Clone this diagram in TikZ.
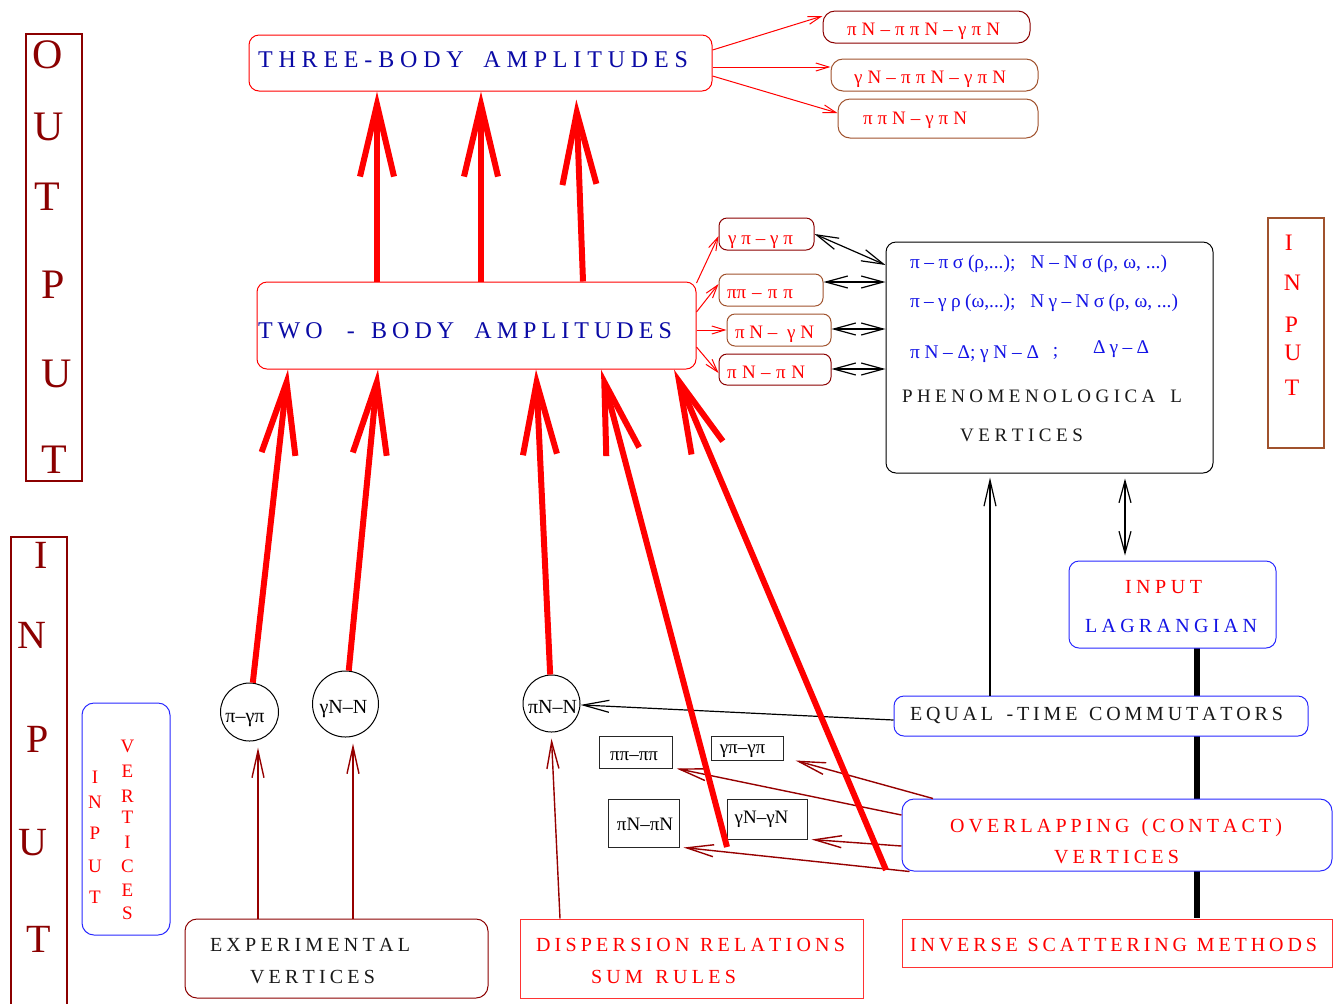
\documentclass[tikz,border=0pt]{standalone}
\usepackage{fontspec}
\setmainfont{Liberation Serif}
\usetikzlibrary{arrows.meta}
\definecolor{dred}{RGB}{139,0,0}
\definecolor{arrred}{RGB}{150,0,0}
\definecolor{brn}{RGB}{160,82,45}
\definecolor{bbox}{RGB}{40,40,255}
\definecolor{navy}{RGB}{10,10,165}
\definecolor{fblue}{RGB}{20,20,230}
\definecolor{txtblk}{RGB}{25,25,25}
\newcommand{\fsz}[1]{\fontsize{#1}{#1}\selectfont}
\newcommand{\spread}[2]{\makebox[#1][s]{\spaceskip=0.12em plus 1fil\relax #2}}
\begin{document}
\begin{tikzpicture}[x=0.5pt,y=-0.5pt,
  box/.style={draw, inner sep=0pt, line width=0.5pt, fill=white},
  rbox/.style={box, rounded corners=5pt},
  txt/.style={inner sep=0pt, anchor=base},
  bigred/.style={draw=red, line width=3pt, -{Straight Barb[length=36pt,width=17pt]}},
  thinred/.style={draw=red, line width=0.5pt, -{Straight Barb[length=6.5pt,width=4pt]}},
  drarrow/.style={draw=arrred, line width=0.7pt, -{Straight Barb[length=13.5pt,width=6pt]}},
  blkarrow/.style={draw=black, line width=0.6pt, -{Straight Barb[length=13pt,width=6pt]}},
  dblarrow/.style={draw=black, line width=0.6pt, {Straight Barb[length=11pt,width=6pt]}-{Straight Barb[length=11pt,width=6pt]}},
]
\useasboundingbox (0,0) rectangle (1343,1003);

% ---------- side boxes ----------
\node[box, draw=dred, line width=0.75pt, minimum width=28pt, minimum height=223.5pt] (outbox) at (54,257.5) {};
\foreach \l/\x/\y [count=\i] in {O/48/68, U/49/140, T/47/210, P/53/298, U/57/387, T/54/473}
  \node[txt, font=\fsz{21}, text=dred] (outL\i) at (\x,\y) {\l};

\node[box, draw=dred, line width=0.75pt, minimum width=28pt, minimum height=240pt] (inbox) at (39,777) {};
\foreach \l/\x/\y [count=\i] in {I/41/568, N/32/648, P/37.5/752, U/32.5/855, T/38.5/952}
  \node[txt, font=\fsz{20}, text=dred] (inL\i) at (\x,\y) {\l};

\node[rbox, draw=bbox, rounded corners=6pt, minimum width=44pt, minimum height=116pt] (vin) at (126,819) {};
\foreach \l/\y [count=\i] in {I/783, N/808, P/839, U/872, T/903}
  \node[txt, font=\fsz{9.5}, text=red] (viA\i) at (95,\y) {\l};
\foreach \l/\y [count=\i] in {V/752, E/777, R/802, T/823, I/848, C/872, E/896, S/919}
  \node[txt, font=\fsz{9.5}, text=red] (viB\i) at (127.5,\y) {\l};

\node[box, draw=brn, line width=0.6pt, minimum width=28pt, minimum height=115pt] (inR) at (1296,333) {};
\foreach \l/\x/\y [count=\i] in {I/1288.7/250, N/1292.5/290, P/1291.3/332, U/1292.8/360, T/1292/395}
  \node[txt, font=\fsz{11.8}, text=red] (inRL\i) at (\x,\y) {\l};

% ---------- arrows drawn under boxes ----------
\draw[line width=3.2pt] (1197,648) -- (1197,918);

% ---------- main boxes ----------
\node[rbox, draw=red, minimum width=231.5pt, minimum height=28pt] (three) at (480.5,63) {};
\node[txt, font=\fsz{12}, text=navy] (threeT) at (473,67)
  {\spread{215pt}{T H R E E - B O D Y \hspace{4pt} A M P L I T U D E S}};

\node[rbox, draw=red, minimum width=219.5pt, minimum height=43.5pt] (two) at (476.5,325.5) {};
\node[txt, font=\fsz{12}, text=navy] (twoT) at (465,338)
  {\spread{207pt}{T W O \hspace{7pt} - \hspace{3pt} B O D Y \hspace{5pt} A M P L I T U D E S}};

\node[rbox, draw=dred, rounded corners=6pt, minimum width=103.5pt, minimum height=16pt] (r1) at (926.5,27) {};
\node[txt, font=\fsz{9.5}, text=red] (r1T) at (923.5,35) {\spread{76.5pt}{π N – π π N – γ π N}};
\node[rbox, draw=brn, rounded corners=6pt, minimum width=103.5pt, minimum height=16pt] (r2) at (934.5,75) {};
\node[txt, font=\fsz{9.5}, text=red] (r2T) at (930,83) {\spread{76pt}{γ N – π π N – γ π N}};
\node[rbox, draw=brn, rounded corners=6pt, minimum width=100pt, minimum height=19.5pt] (r3) at (938,118.5) {};
\node[txt, font=\fsz{9.5}, text=red] (r3T) at (915,124) {\spread{52pt}{π π N – γ π N}};

\node[rbox, draw=dred, rounded corners=4pt, minimum width=47.5pt, minimum height=16pt] (s1) at (766.5,234) {};
\node[txt, font=\fsz{9.5}, text=red] (s1T) at (760.5,244) {\spread{32.5pt}{γ π – γ π}};
\node[rbox, draw=brn, rounded corners=4pt, minimum width=52pt, minimum height=16pt] (s2) at (771,290) {};
\node[txt, font=\fsz{9.5}, text=red] (s2T) at (760,298) {\spread{33pt}{ππ – π π}};
\node[rbox, draw=brn, rounded corners=4pt, minimum width=52pt, minimum height=16pt] (s3) at (779,330) {};
\node[txt, font=\fsz{9.5}, text=red] (s3T) at (774.5,338) {\spread{39.5pt}{π N – \ γ N}};
\node[rbox, draw=dred, rounded corners=4pt, minimum width=56pt, minimum height=15.5pt] (s4) at (775,369.5) {};
\node[txt, font=\fsz{9.5}, text=red] (s4T) at (766,378) {\spread{39pt}{π N – π N}};

\node[rbox, draw=black, minimum width=163.5pt, minimum height=115.5pt] (phen) at (1049.5,357.5) {};
\node[txt, font=\fsz{9.7}, text=fblue] (ph1) at (1038.5,268) {\spread{128.5pt}{π – π σ (ρ,...); \hspace{2pt} N – N σ (ρ, ω, ...)}};
\node[txt, font=\fsz{9.7}, text=fblue] (ph2) at (1044,307) {\spread{134pt}{π – γ ρ (ω,...); \hspace{2pt} N γ – N σ (ρ, ω, ...)}};
\node[txt, font=\fsz{9.7}, text=fblue] (ph3) at (974.5,358) {\spread{64.5pt}{π N – Δ; γ N – Δ}};
\node[txt, font=\fsz{9.7}, text=fblue] (ph3b) at (1055.5,356) {;};
\node[txt, font=\fsz{9.7}, text=fblue] (ph3c) at (1121,353) {\spread{28pt}{Δ γ – Δ}};
\node[txt, font=\fsz{9.5}, text=txtblk] (ph4) at (1042,402) {\spread{140pt}{P H E N O M E N O L O G I C A \hspace{3pt} L}};
\node[txt, font=\fsz{9.5}, text=txtblk] (ph5) at (1021.5,441) {\spread{61.5pt}{V E R T I C E S}};

\node[rbox, draw=bbox, minimum width=103.5pt, minimum height=43.5pt] (lag) at (1172.5,604.5) {};
\node[txt, font=\fsz{10}, text=red] (lag1) at (1163.5,593) {\spread{38.5pt}{I N P U T}};
\node[txt, font=\fsz{10}, text=fblue] (lag2) at (1171,632) {\spread{86pt}{L A G R A N G I A N}};

\node[rbox, draw=bbox, minimum width=207pt, minimum height=20pt] (eq) at (1101,716) {};
\node[txt, font=\fsz{10}, text=txtblk] (eqT) at (1096.5,720) {\spread{186.5pt}{E Q U A L \hspace{3pt} - T I M E \hspace{2pt} C O M M U T A T O R S}};

\node[rbox, draw=bbox, rounded corners=6pt, minimum width=215pt, minimum height=36pt] (ov) at (1117,835) {};
\node[txt, font=\fsz{10}, text=red] (ov1) at (1116,832) {\spread{166pt}{O V E R L A P P I N G \hspace{2pt} ( C O N T A C T )}};
\node[txt, font=\fsz{10}, text=red] (ov2) at (1116.5,863) {\spread{62.5pt}{V E R T I C E S}};

\node[box, draw=red!80, minimum width=215pt, minimum height=24pt] (inv) at (1117,943) {};
\node[txt, font=\fsz{10}, text=red] (invT) at (1113.5,951) {\spread{203.5pt}{I N V E R S E \hspace{1pt} S C A T T E R I N G \hspace{1pt} M E T H O D S}};

\node[rbox, draw=dred, rounded corners=6pt, minimum width=151.5pt, minimum height=39.5pt] (exp) at (336.5,958.5) {};
\node[txt, font=\fsz{10}, text=txtblk] (exp1) at (310,951) {\spread{100pt}{E X P E R I M E N T A L}};
\node[txt, font=\fsz{10}, text=txtblk] (exp2) at (312.5,983) {\spread{62.5pt}{V E R T I C E S}};

\node[box, draw=red!80, minimum width=171.5pt, minimum height=39.5pt] (disp) at (691.5,958.5) {};
\node[txt, font=\fsz{10}, text=red] (disp1) at (690.5,951) {\spread{154.5pt}{D I S P E R S I O N \hspace{1pt} R E L A T I O N S}};
\node[txt, font=\fsz{10}, text=red] (disp2) at (663.5,983) {\spread{72.5pt}{S U M \hspace{2pt} R U L E S}};

% small square boxes
\node[box, draw=black!85, minimum width=36.5pt, minimum height=16pt] (b1) at (635.5,752) {};
\node[txt, font=\fsz{9.5}] (b1T) at (634,760) {ππ–ππ};
\node[box, draw=black!85, minimum width=36pt, minimum height=12pt] (b2) at (747,748) {};
\node[txt, font=\fsz{9.5}] (b2T) at (742.5,753) {γπ–γπ};
\node[box, draw=black!85, minimum width=35.5pt, minimum height=24pt] (b3) at (643.5,823) {};
\node[txt, font=\fsz{9.5}] (b3T) at (645,830) {πN–πN};
\node[box, draw=black!85, minimum width=40pt, minimum height=20pt] (b4) at (767,819) {};
\node[txt, font=\fsz{9.5}] (b4T) at (761.5,823) {γN–γN};

% circles
\node[circle, draw, line width=0.5pt, minimum size=29pt, inner sep=0pt] (c1) at (249.5,712) {};
\node[txt, font=\fsz{10}] (c1T) at (245,722) {π–γπ};
\node[circle, draw, line width=0.5pt, minimum size=33pt, inner sep=0pt] (c2) at (345.5,704) {};
\node[txt, font=\fsz{10}] (c2T) at (343.5,713) {γN–N};
\node[circle, draw, line width=0.5pt, minimum size=28.5pt, inner sep=0pt] (c3) at (551.5,703.5) {};
\node[txt, font=\fsz{10}] (c3T) at (552.5,713) {πN–N};

% ---------- thin connectors ----------
\draw[thinred] (three.east |- 0,50) -- (r1.west |- 0,16);
\draw[thinred] (three.east |- 0,67) -- (r2.west |- 0,67);
\draw[thinred] (three.east |- 0,76) -- (r3.west |- 0,113);

\draw[thinred] (two.east |- 0,283) -- (s1.west |- 0,236);
\draw[thinred] (two.east |- 0,312) -- (s2.west |- 0,284);
\draw[thinred] (two.east |- 0,330) -- (s3.west |- 0,330);
\draw[thinred] (two.east |- 0,347) -- (s4.west |- 0,373);

\draw[dblarrow] (s1.east) -- (phen.west |- 0,265);
\draw[dblarrow] (s2.east |- 0,282) -- (phen.west |- 0,282);
\draw[dblarrow] (s3.east |- 0,329) -- (phen.west |- 0,329);
\draw[dblarrow] (s4.east |- 0,369) -- (phen.west |- 0,369);

\draw[blkarrow, shorten >=2pt] (990,0 |- eq.north) -- (990,0 |- phen.south);
\draw[dblarrow, shorten >=2.5pt, shorten <=2.5pt] (1125,0 |- phen.south) -- (1125,0 |- lag.north);

\draw[blkarrow] (eq.west |- 0,720) -- (c3);

\draw[drarrow] (258,0 |- exp.north) -- ([yshift=-3pt]258,0 |- c1.south);
\draw[drarrow] (353,0 |- exp.north) -- ([yshift=-3pt]353,0 |- c2.south);
\draw[drarrow] (560,0 |- disp.north) -- ([yshift=-3pt]c3.south);

\draw[drarrow] (933,0 |- ov.north) -- ([xshift=6pt]b2.south east);
\draw[drarrow] (ov.west |- 0,815) -- ([xshift=2pt]b1.south east);
\draw[drarrow] (ov.west |- 0,846) -- ([xshift=2pt]b4.south east);
\draw[drarrow] ([xshift=4pt]ov.south west) -- ([xshift=2pt]b3.south east);

% ---------- thick red arrows ----------
\draw[bigred] (377,0 |- two.north) -- (377,0 |- three.south);
\draw[bigred] (481,0 |- two.north) -- (481,0 |- three.south);
\draw[bigred, shorten >=4pt] (583,0 |- two.north) -- (576,0 |- three.south);

\coordinate (f1) at (727,847);
\coordinate (f2) at (886,870);
\draw[bigred] (c1) -- (288,0 |- two.south);
\draw[bigred] (c2) -- (378,0 |- two.south);
\draw[bigred] (c3) -- (536,0 |- two.south);
\draw[bigred] (f1) -- (601,0 |- two.south);
\draw[bigred] (f2) -- (674,0 |- two.south);
\end{tikzpicture}
\end{document}
